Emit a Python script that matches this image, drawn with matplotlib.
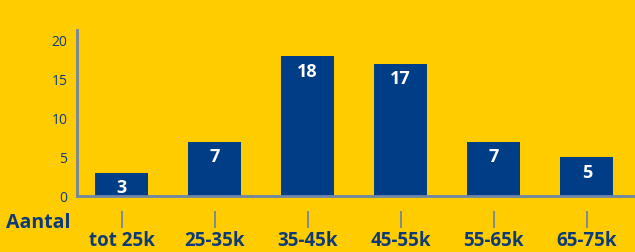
import matplotlib.pyplot as plt

categories = ["tot 25k", "25-35k", "35-45k", "45-55k", "55-65k", "65-75k"]
aantal = [3, 7, 18, 17, 7, 5]
y_ticks = [0, 5, 10, 15, 20]

bg = "#FFCC00"
bar_blue = "#003D87"
text_blue = "#0E3B78"
axis_grey = "#6F86A6"

plt.rcParams['font.family'] = ['Open Sans', 'DejaVu Sans']

fig = plt.figure(figsize=(6.35, 2.52), dpi=100, facecolor=bg)
ax = fig.add_axes([0.1213, 0.222, 0.879, 0.659])
ax.set_facecolor(bg)

x = list(range(len(categories)))
ax.bar(x, aantal, width=0.57, color=bar_blue, zorder=2)

for xi, v in zip(x, aantal):
    ax.annotate(str(v), (xi, v), xytext=(0, -11), textcoords="offset points",
                ha="center", va="center", color="white", fontsize=13,
                fontweight="bold")

ax.set_xlim(-0.48, 5.52)
ax.set_ylim(0, 21.4)

ax.set_yticks(y_ticks)
ax.set_yticklabels([str(t) for t in y_ticks])
ax.tick_params(axis="y", length=0, pad=7, labelsize=10, labelcolor=text_blue)

ax.set_xticks(x)
ax.set_xticklabels(categories)
ax.tick_params(axis="x", length=0, pad=25, labelsize=13.5, labelcolor=text_blue)
for lbl in ax.get_xticklabels():
    lbl.set_fontweight("bold")

# detached tick marks below the axis
ax.vlines(x, -0.193, -0.09, transform=ax.get_xaxis_transform(),
          color=axis_grey, linewidth=1.3, clip_on=False)

ax.text(-0.011, -0.16, "Aantal", transform=ax.transAxes, ha="right", va="center",
        fontsize=14, fontweight="bold", color=text_blue)

for side in ["top", "right"]:
    ax.spines[side].set_visible(False)
for side in ["left", "bottom"]:
    ax.spines[side].set_color(axis_grey)
    ax.spines[side].set_linewidth(2)

fig.savefig("out.png", dpi=100, facecolor=bg)
